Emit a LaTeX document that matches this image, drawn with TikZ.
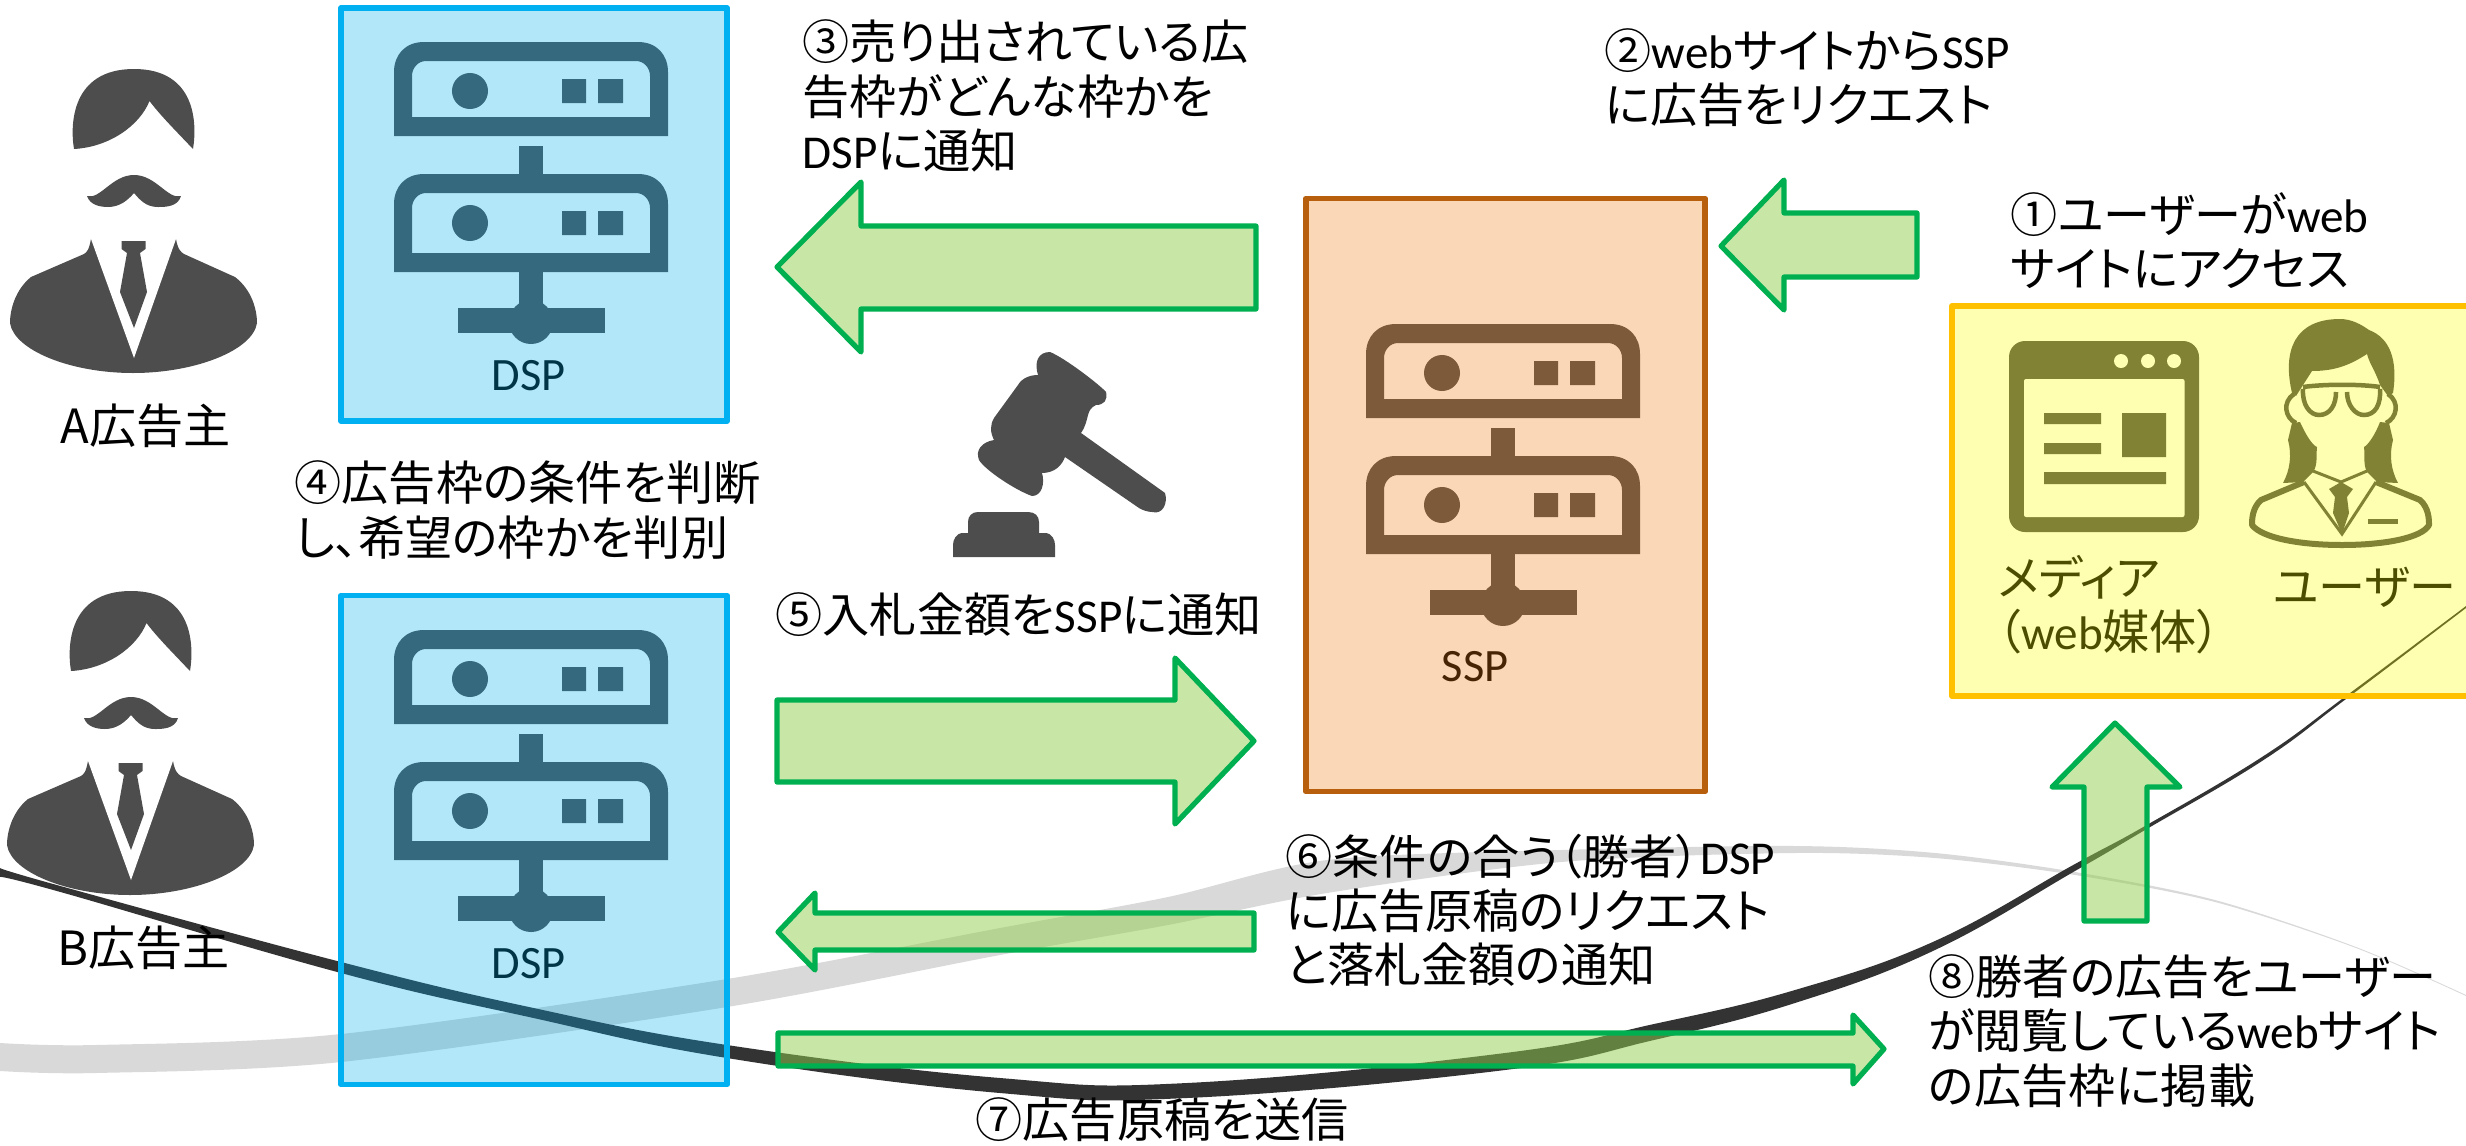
\documentclass[tikz,border=0pt]{standalone}
\usepackage{fontspec}
\setmainfont{Noto Sans CJK JP}[RawFeature=+palt]
\newfontfamily\latf{Carlito}
\newcommand\LT[1]{{\latf #1}}
\definecolor{ink}{HTML}{4D4D4D}
\definecolor{arrowedge}{HTML}{00B050}
\definecolor{arrowfill}{HTML}{92D050}
\definecolor{dspblue}{HTML}{00B0F0}
\definecolor{sspor}{HTML}{ED7D0F}
\definecolor{sspedge}{HTML}{B85F0E}
\definecolor{medy}{HTML}{FFFF00}
\definecolor{medge}{HTML}{FFC000}
\definecolor{band}{HTML}{D9D9D9}
\definecolor{dband}{HTML}{333333}
\tikzset{
  x=0.01cm,y=-0.01cm,
  lbl/.style={font=\fontsize{13.4pt}{15.4pt}\selectfont,anchor=west,inner sep=0pt,align=left,text=black},
  boxbase/.style={line width=0.055cm,line join=round,fill opacity=.3,draw opacity=1,inner sep=0pt},
  dspbox/.style={boxbase,draw=dspblue,fill=dspblue,minimum width=3.86cm,minimum height=4.13cm},
  sspbox/.style={boxbase,draw=sspedge,fill=sspor,minimum width=3.99cm,minimum height=5.93cm},
  medbox/.style={boxbase,draw=medge,fill=medy,minimum width=5.4cm,minimum height=3.9cm},
  blockarrow/.style={draw=arrowedge,line width=0.052cm,line join=round,fill=arrowfill,fill opacity=.5,draw opacity=1},
}
\newcommand\serverIcon[2]{%
\begin{scope}[shift={(#1,#2)}]
\fill[ink,even odd rule] (394,136)--(394,72) .. controls (394,55) and (405,42) .. (424,42) -- (638,42) .. controls (657,42) and (668,55) .. (668,72) -- (668,136)--cycle
 (412,117)--(412,76) .. controls (412,68) and (418,61) .. (426,61) -- (636,61) .. controls (644,61) and (650,68) .. (650,76)--(650,117)--cycle;
\fill[ink] (470,91) circle[radius=0.18cm];
\fill[ink] (562,79) rectangle (586,103) (598,79) rectangle (623,103);
\fill[ink] (519,146) rectangle (543,176);
\fill[ink,even odd rule] (394,272)--(394,204) .. controls (394,187) and (405,174) .. (424,174) -- (638,174) .. controls (657,174) and (668,187) .. (668,204) -- (668,272)--cycle
 (412,253)--(412,208) .. controls (412,200) and (418,193) .. (426,193) -- (636,193) .. controls (644,193) and (650,200) .. (650,208)--(650,253)--cycle;
\fill[ink] (470,223) circle[radius=0.18cm];
\fill[ink] (562,211) rectangle (586,235) (598,211) rectangle (623,235);
\fill[ink] (519,272) rectangle (543,310);
\fill[ink] (458,308) rectangle (605,333);
\fill[ink] (531,322) circle[radius=0.22cm];
\end{scope}}
\newcommand\manIcon[2]{%
\begin{scope}[shift={(#1,#2)}]
\fill[ink] (74,149) .. controls (70,125) and (71,69) .. (134,69) .. controls (197,69) and (197,125) .. (193,149) .. controls (175,130) and (160,115) .. (149.5,101) .. controls (140,125) and (110,147) .. (74,149) -- cycle;
\fill[ink] (87,196) .. controls (100,200) and (112,175) .. (134,175) .. controls (156,175) and (168,200) .. (181,196) .. controls (178,207) and (165,207) .. (158,207) .. controls (146,207) and (140,200) .. (134,193) .. controls (128,200) and (120,207) .. (108,207) .. controls (100,207) and (90,205) .. (87,196) -- cycle;
\fill[ink] (91,239) .. controls (89,250) and (87,252) .. (84,254) -- (31,277) .. controls (15,290) and (10,310) .. (10,323) .. controls (14,350) and (70,373) .. (133,373) .. controls (196,373) and (253,350) .. (257,323) .. controls (257,310) and (252,290) .. (235,277) -- (184,254) .. controls (181,252) and (178,250) .. (176,239) -- cycle;
\fill[white] (91,239) -- (134,358) -- (176,239) -- cycle;
\fill[ink] (121.5,241) -- (145.5,241) -- (145.5,249) -- (140,253) -- (147,292) -- (134,328) -- (120,292) -- (127,253) -- (121.5,249) -- cycle;
\end{scope}}
\begin{document}
\begin{tikzpicture}
\useasboundingbox (0,0) rectangle (2466,1145);
\clip (0,0) rectangle (2466,1145);
% people and icons, under the translucent boxes
\manIcon{0}{0}
\manIcon{-3}{522}
% gavel
\fill[ink] (1050,352) .. controls (1065,358) and (1100,385) .. (1106,392) .. controls (1108,400) and (1104,405) .. (1096,405) .. controls (1085,410) and (1090,420) .. (1081,433) -- (1165,493) .. controls (1168,503) and (1163,515) .. (1152,512) .. controls (1148,512) and (1142,510) .. (1139,508) -- (1065,457) .. controls (1062,465) and (1055,473) .. (1042,473) .. controls (1045,483) and (1042,496) .. (1032,496) .. controls (1015,490) and (985,470) .. (979,460) .. controls (975,450) and (982,442) .. (994,440) .. controls (990,432) and (990,425) .. (994,418) -- (1018,385) .. controls (1022,378) and (1030,375) .. (1038,375) .. controls (1034,362) and (1038,352) .. (1050,352) -- cycle;
\fill[ink] (968,533) -- (968,522) .. controls (968,516) and (972,512) .. (978,512) -- (1028,512) .. controls (1035,512) and (1039,516) .. (1039,522) -- (1039,533) -- (1045,533) .. controls (1052,533) and (1055,540) .. (1055,545) -- (1055,557) -- (953,557) -- (953,545) .. controls (953,540) and (956,533) .. (963,533) -- cycle;
% curves
\fill[band] plot[smooth] coordinates {(0,1043) (96,1045) (341,1034) (727,979) (1000,928) (1168,897) (1327,860) (1561,850) (1795,846) (1935,853) (2075,872) (2215,900) (2356,947) (2466,995)}
 -- plot[smooth] coordinates {(2466,996) (2356,948) (2215,902) (2075,875) (1935,858) (1795,853) (1561,862) (1327,893) (1168,925) (1000,955) (727,1007) (341,1062) (96,1073) (0,1071)} -- cycle;
\fill[dband] plot[smooth,tension=0.7] coordinates {(0,868) (64,887) (341,962) (529,1007) (727,1045) (1000,1078) (1187,1083) (1505,1053) (1654,1024) (1795,990) (1935,941) (2075,864) (2145,826) (2262,757) (2346,696) (2466,606)}
 -- plot[smooth,tension=0.7] coordinates {(2466,608) (2346,699) (2262,761) (2145,830) (2075,871) (1935,950) (1795,1003) (1654,1040) (1505,1070) (1187,1098) (1000,1093) (727,1058) (529,1017) (341,973) (64,893) (0,877)} -- cycle;
\serverIcon{0}{0}
\serverIcon{0}{588}
\serverIcon{972}{282}
% window icon
\fill[ink,rounded corners=0.16cm] (2009,341) rectangle (2199,532);
\fill[white,rounded corners=0.02cm] (2024,379) rectangle (2184.5,517);
\fill[white] (2121,361) circle[radius=0.07cm] (2148,361) circle[radius=0.07cm] (2174,361) circle[radius=0.07cm];
\fill[ink] (2044,413) rectangle (2101,424) (2044,443) rectangle (2101,454) (2122,413) rectangle (2166,457) (2044,472) rectangle (2166,484);
% woman icon
\draw[ink,line width=0.06cm,fill=white,line join=round] (2304,482) -- (2261,500) .. controls (2252,508) and (2252,520) .. (2252,525) .. controls (2262,538) and (2300,545) .. (2342,545) .. controls (2384,545) and (2422,538) .. (2429,525) .. controls (2429,520) and (2429,508) .. (2420,500) -- (2376,482);
\fill[ink] (2292,393) .. controls (2282,350) and (2295,319) .. (2340,319) .. controls (2352,319) and (2362,325) .. (2369,330) .. controls (2390,338) and (2398,360) .. (2393,393) -- (2388,396) -- (2380,385) .. controls (2375,370) and (2370,365) .. (2367,354) .. controls (2350,365) and (2335,371) .. (2312,371) -- (2303,385) -- (2296,396) -- cycle;
\draw[ink,line width=0.045cm] (2303,387) .. controls (2325,384) and (2360,384) .. (2380,387);
\draw[ink,line width=0.045cm] (2303,389) .. controls (2302,405) and (2310,415) .. (2319,415) .. controls (2330,415) and (2336,405) .. (2336,392);
\draw[ink,line width=0.045cm] (2347,392) .. controls (2347,405) and (2355,415) .. (2364,415) .. controls (2375,415) and (2381,405) .. (2380,389);
\draw[ink,line width=0.045cm] (2294,394) .. controls (2282,402) and (2285,418) .. (2296,423) (2388,394) .. controls (2400,402) and (2397,418) .. (2386,423);
\fill[ink] (2292,423) -- (2300,422) .. controls (2306,435) and (2312,445) .. (2317,447) .. controls (2316,455) and (2318,465) .. (2313,472) -- (2303,482) -- (2283,483) .. controls (2290,470) and (2292,455) .. (2288,440) -- cycle;
\fill[ink] (2389,423) -- (2380,422) .. controls (2375,435) and (2368,445) .. (2364,447) .. controls (2365,455) and (2363,465) .. (2367,472) -- (2377,482) -- (2398,483) .. controls (2391,470) and (2389,455) .. (2393,440) -- cycle;
\draw[ink,line width=0.03cm] (2304,482) -- (2342,534) -- (2376,482) (2313,471) -- (2341,482) -- (2367,471);
\fill[ink] (2329,489) -- (2341,482) -- (2353,489) -- (2347,497) -- (2349,513) -- (2342,534) -- (2333,513) -- (2335,497) -- cycle;
\fill[ink] (2368,519) rectangle (2398,524);
% labels inside the boxes
\node[lbl,font=\fontsize{13.2pt}{15pt}\latf] (dspa) at (491,376) {DSP};
\node[lbl,font=\fontsize{13.2pt}{15pt}\latf] (dspb) at (491,964) {DSP};
\node[lbl,font=\fontsize{13.2pt}{15pt}\latf] (ssp) at (1441,667) {SSP};
\node[lbl] (media) at (1997,605) {メディア\\（\LT{web}媒体）};
\node[lbl] (user) at (2272,587) {ユーザー};
% translucent boxes
\node[dspbox] (boxa) at (534,214.5) {};
\node[dspbox,minimum height=4.89cm] (boxb) at (534,840) {};
\node[sspbox] (boxssp) at (1505.5,495) {};
\node[medbox] (boxmed) at (2222,501) {};
% block arrows
\draw[blockarrow] (1256,226) -- (861,226) -- (861,182) -- (777,267) -- (861,352) -- (861,309) -- (1256,309) -- cycle;
\draw[blockarrow] (1917,213) -- (1784,213) -- (1784,180) -- (1721,246) -- (1784,310) -- (1784,277) -- (1917,277) -- cycle;
\draw[blockarrow] (777,700) -- (1175,700) -- (1175,658) -- (1254,741) -- (1175,824) -- (1175,782) -- (777,782) -- cycle;
\draw[blockarrow] (1254,913) -- (815,913) -- (815,893) -- (778,932) -- (815,970) -- (815,950) -- (1254,950) -- cycle;
\draw[blockarrow] (778,1033) -- (1853,1033) -- (1853,1015) -- (1884,1049) -- (1853,1084) -- (1853,1066) -- (778,1066) -- cycle;
\draw[blockarrow] (2084,921) -- (2084,787) -- (2052,787) -- (2115,723) -- (2180,787) -- (2147,787) -- (2147,921) -- cycle;
% texts
\node[lbl] (owner a) at (60,426) {A広告主};
\node[lbl] (owner b) at (57,948) {B広告主};
\node[lbl] (t1) at (2010,241) {①ユーザーが\LT{web}\\サイトにアクセス};
\node[lbl] (t2) at (1604,78) {②\LT{web}サイトから\LT{SSP}\\に広告をリクエスト};
\node[lbl] (t3) at (802,96) {③売り出されている広\\告枠がどんな枠かを\\\LT{DSP}に通知};
\node[lbl] (t4) at (294,510) {④広告枠の条件を判断\\し、希望の枠かを判別};
\node[lbl] (t5) at (775,615) {⑤入札金額を\LT{SSP}に通知};
\node[lbl] (t6) at (1285,910) {⑥条件の合う（勝者）\LT{DSP}\\に広告原稿のリクエスト\\と落札金額の通知};
\node[lbl] (t7) at (975,1120) {⑦広告原稿を送信};
\node[lbl] (t8) at (1928,1031) {⑧勝者の広告をユーザー\\が閲覧している\LT{web}サイト\\の広告枠に掲載};
\end{tikzpicture}
\end{document}
